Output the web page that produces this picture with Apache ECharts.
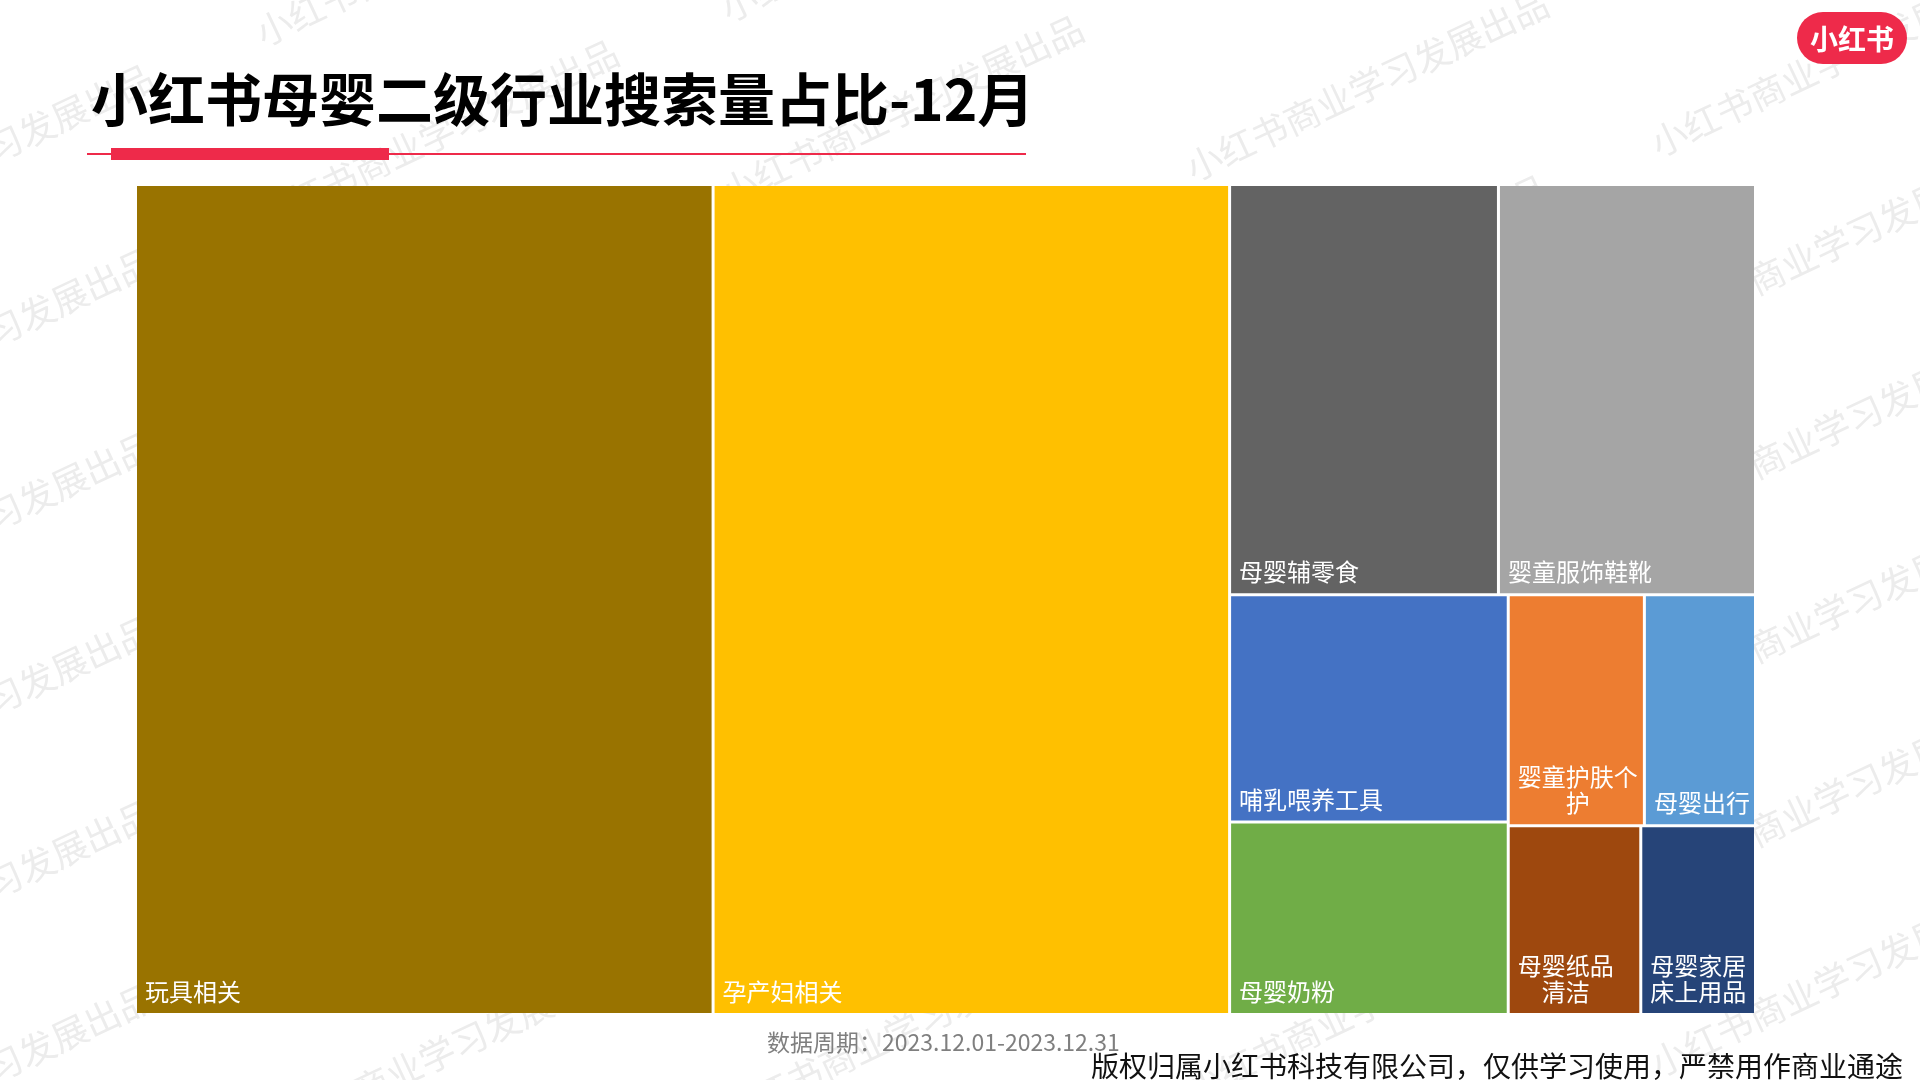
<!DOCTYPE html>
<html>
<head>
<meta charset="utf-8">
<script src="https://cdn.jsdelivr.net/npm/echarts@6/dist/echarts.min.js"></script>
<style>
html,body{margin:0;padding:0;background:#ffffff;}
#main{width:1920px;height:1080px;}
</style>
</head>
<body>
<div id="main"></div>
<script>
// ---- data ----
const categories = ['玩具相关','孕产妇相关','母婴辅零食','婴童服饰鞋靴','哺乳喂养工具','母婴奶粉','婴童护肤个护','母婴出行','母婴纸品清洁','母婴家居床上用品'];
const shares = [35.65, 31.88, 8.20, 7.84, 4.71, 3.99, 2.34, 1.91, 1.86, 1.61];
const colors = ['#997300','#FFC000','#636363','#A5A5A5','#4472C4','#70AD47','#ED7D31','#5B9BD5','#9E480E','#264478'];
// wrapped labels (second line centred with ideographic spaces)
const wrappedLabels = {
  '婴童护肤个护': '婴童护肤个\n\u3000\u3000护',
  '母婴纸品清洁': '母婴纸品\n\u3000清洁',
  '母婴家居床上用品': '母婴家居\n床上用品'
};
const titleText = '小红书母婴二级行业搜索量占比-12月';
const periodText = '数据周期：2023.12.01-2023.12.31';
const copyrightText = '版权归属小红书科技有限公司，仅供学习使用，严禁用作商业通途';
const watermarkText = '小红书商业学习发展出品';
const logoText = '小红书';

// ---- chart ----
const FONT = '"Noto Sans CJK SC", "Noto Sans", sans-serif';
const chart = echarts.init(document.getElementById('main'), null, {renderer: 'canvas'});
const LABEL_SIZE = 24;

// watermark tiles (decoration)
const wm = [];
for (let c = -1; c <= 5; c++) {
  const cx = -28 + c * 465;
  const off = 159 - c * 24.5;
  for (let r = -2; r <= 7; r++) {
    wm.push({
      type: 'text', x: cx, y: off + r * 184, rotation: 0.44, z: -10, silent: true,
      style: {text: watermarkText, fill: '#ececec', font: '36px ' + FONT,
              textAlign: 'center', textVerticalAlign: 'middle', align: 'center', verticalAlign: 'middle'}
    });
  }
}

const option = {
  backgroundColor: '#ffffff',
  animation: false,
  graphic: wm.concat([
    {type: 'text', x: 91, y: 99, z: 10,
     style: {text: titleText, fill: '#000000', font: 'bold 57px ' + FONT,
             textAlign: 'left', textVerticalAlign: 'middle', align: 'left', verticalAlign: 'middle'}},
    {type: 'rect', shape: {x: 87, y: 153, width: 939, height: 2}, style: {fill: '#ee2a4a'}, z: 10},
    {type: 'rect', shape: {x: 111, y: 148, width: 278, height: 12}, style: {fill: '#ee2a4a'}, z: 11},
    {type: 'rect', shape: {x: 1797, y: 12, width: 110, height: 52, r: 26}, style: {fill: '#ee2a4a'}, z: 10},
    {type: 'text', x: 1852, y: 39, z: 11,
     style: {text: logoText, fill: '#ffffff', font: 'bold 28px ' + FONT,
             textAlign: 'center', textVerticalAlign: 'middle', align: 'center', verticalAlign: 'middle'}},
    {type: 'text', x: 767, y: 1042, z: 10,
     style: {text: periodText, fill: '#7f7f7f', font: '23px ' + FONT,
             textAlign: 'left', textVerticalAlign: 'middle', align: 'left', verticalAlign: 'middle'}},
    {type: 'text', x: 1903, y: 1066, z: 10,
     style: {text: copyrightText, fill: '#111111', font: '28px ' + FONT,
             textAlign: 'right', textVerticalAlign: 'middle', align: 'right', verticalAlign: 'middle'}}
  ]),
  series: [{
    type: 'treemap',
    left: 137, top: 186, width: 1617, height: 827,
    roam: false, nodeClick: false,
    breadcrumb: {show: false},
    squareRatio: 1.2,
    sort: 'desc',
    visibleMin: 0,
    levels: [
      {itemStyle: {borderWidth: 0, gapWidth: 3, borderColor: '#ffffff'}},
      {itemStyle: {borderWidth: 0, gapWidth: 0}}
    ],
    label: {
      show: true,
      position: 'insideBottomLeft',
      distance: 3,
      padding: 5,
      color: '#ffffff',
      fontSize: LABEL_SIZE,
      fontFamily: FONT,
      lineHeight: 26,
      overflow: 'none',
      formatter: function (p) {
        return wrappedLabels[p.name] || p.name;
      }
    },
    upperLabel: {show: false},
    emphasis: {disabled: true},
    data: categories.map((name, i) => ({name: name, value: shares[i], itemStyle: {color: colors[i]}}))
  }]
};
chart.setOption(option);
</script>
</body>
</html>
